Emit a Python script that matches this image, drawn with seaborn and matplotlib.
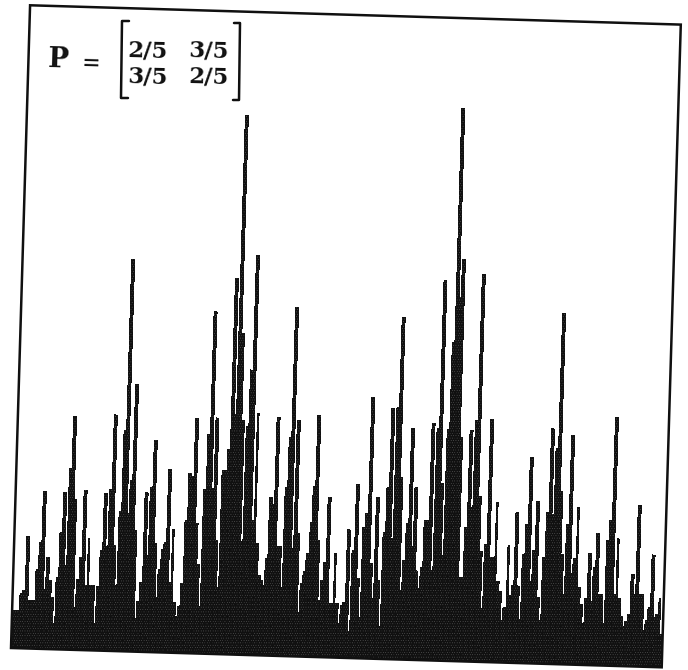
import matplotlib
matplotlib.use("Agg")
import matplotlib.pyplot as plt
import numpy as np
import seaborn as sns
from matplotlib.lines import Line2D
from matplotlib.patches import Rectangle
from matplotlib.transforms import Affine2D

# heights, one row per 16 bins
heights = [
    38, 38, 38, 55, 58, 112, 48, 48, 48, 79, 106, 157, 59, 92, 69, 52,
    26, 72, 117, 157, 84, 181, 233, 150, 42, 70, 93, 160, 65, 112, 65, 65,
    27, 64, 100, 157, 104, 161, 236, 106, 66, 140, 221, 392, 138, 171, 267, 121,
    33, 50, 69, 159, 97, 165, 212, 109, 55, 83, 103, 110, 183, 70, 123, 50,
    36, 46, 70, 133, 180, 177, 235, 130, 89, 47, 164, 219, 342, 165, 236, 114,
    67, 184, 184, 205, 376, 240, 539, 321, 234, 113, 228, 285, 400, 135, 242, 112,
    80, 75, 70, 97, 158, 151, 238, 109, 109, 68, 169, 219, 349, 108, 236, 123,
    44, 73, 85, 103, 134, 170, 242, 117, 57, 77, 95, 160, 54, 54, 104, 54,
    34, 52, 55, 128, 27, 108, 174, 80, 41, 131, 145, 261, 95, 60, 161, 78,
    32, 127, 172, 251, 121, 252, 342, 182, 69, 99, 136, 231, 113, 172, 89, 72,
    93, 140, 140, 237, 90, 232, 380, 177, 105, 231, 318, 553, 364, 402, 224, 84,
    84, 134, 231, 154, 241, 387, 165, 110, 53, 118, 243, 105, 105, 160, 81, 71,
    42, 55, 117, 67, 77, 150, 77, 44, 109, 139, 206, 82, 113, 162, 66, 43,
    106, 151, 235, 150, 216, 351, 173, 110, 70, 140, 229, 91, 106, 157, 77, 60,
    41, 67, 112, 64, 98, 132, 71, 71, 42, 125, 145, 248, 71, 127, 68, 50,
    40, 45, 52, 92, 72, 161, 72, 72, 36, 46, 59, 112, 50, 53, 69, 33,
]
thin_bins = [29, 62, 94, 116, 126, 189, 194, 221, 237, 254]
matrix_rows = [["2/5", "3/5"], ["3/5", "2/5"]]

W, H = 688, 670
ink = "#101010"

sns.set_theme(style="white")
plt.rcParams["hatch.linewidth"] = 0.2
fig = plt.figure(figsize=(W / 100, H / 100), dpi=100)
ax = fig.add_axes([11 / W, 22 / H, 651 / W, 643 / H])
ax.set_axis_off()

# the page sits crooked on the scanner
tilt = Affine2D().rotate_deg_around(11, 22, -1.7)

bins = np.arange(len(heights))
sns.barplot(x=bins, y=heights, width=1.15, color=ink, saturation=1, ax=ax,
            linewidth=0, legend=False)
ax.set_xlim(-0.5, len(heights) - 0.5)
ax.set_ylim(0, 643)

for i, bar in enumerate(ax.patches):
    if i in thin_bins:
        bar.set_x(bar.get_x() + 0.25)
        bar.set_width(0.6)
    bar.set_transform(ax.transData + tilt)
    bar.set_clip_on(False)
    bar.set_antialiased(False)
    # scanner grain in the solid ink
    bar.set_edgecolor("#6e6e6e")
    bar.set_hatch(".......")

ax.add_patch(Rectangle((0, 0), 1, 1, fill=False, edgecolor=ink, linewidth=1.8,
                       transform=ax.transAxes + tilt, clip_on=False))


def px(x, y):
    return x / W, 1 - y / H


def label(x, y, s, size=16.5):
    fig.text(*px(x, y), s, family="DejaVu Serif", weight="bold", size=size,
             ha="center", va="center", rotation=-1.7, color=ink)


def bracket(x_bar, x_tip, y0, y1):
    xs = [x_tip, x_bar, x_bar - 1, x_tip - 1]
    ys = [y0, y0, y1, y1]
    pts = [px(a, b) for a, b in zip(xs, ys)]
    fig.add_artist(Line2D([p[0] for p in pts], [p[1] for p in pts], color=ink,
                          linewidth=1.8, transform=fig.transFigure))


label(58, 60, "P", 20)
label(91, 63, "=", 16)
for r, row in enumerate(matrix_rows):
    for c, s in enumerate(row):
        label(148 + 61 * c, 51 + 26 * r, s)
bracket(122, 129, 21, 98)
bracket(240, 234, 23, 100)

fig.savefig("out.png", dpi=100)
